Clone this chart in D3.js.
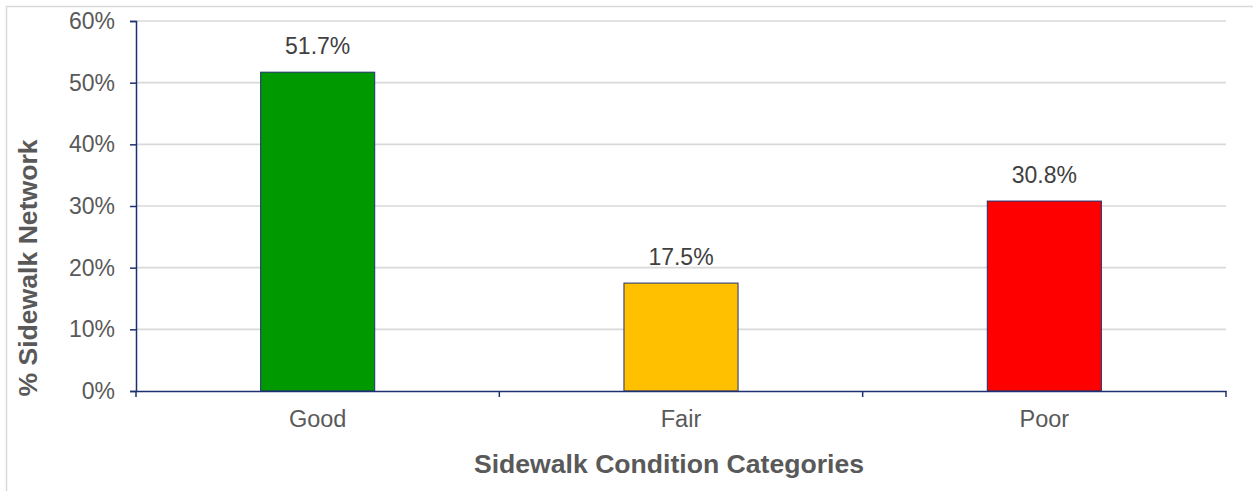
<!DOCTYPE html>
<html>
<head>
<meta charset="utf-8">
<script src="https://cdn.jsdelivr.net/npm/d3@7"></script>
<style>
  html, body { margin: 0; padding: 0; background: #fff; }
  svg { display: block; font-family: "Liberation Sans", Arial, sans-serif; }
</style>
</head>
<body>
<svg id="chart" width="1253" height="491"></svg>
<script>
const categories = ["Good", "Fair", "Poor"];
const values = [51.7, 17.5, 30.8];
const barColors = ["#009900", "#FFC000", "#FF0000"];
const yTicks = [0, 10, 20, 30, 40, 50, 60];
const yTitle = "% Sidewalk Network";
const xTitle = "Sidewalk Condition Categories";

const W = 1253, H = 491;
const m = { left: 136, right: 1226, top: 21, bottom: 391 };
const axisColor = "#1F3070";

const svg = d3.select("#chart");

// outer chart border (cropped at right/bottom)
svg.append("rect")
  .attr("x", 6.5).attr("y", 6.5)
  .attr("width", W + 20).attr("height", H + 20)
  .attr("fill", "#fff").attr("stroke", "#D9D9D9").attr("stroke-width", 1.5);

const x = d3.scaleBand().domain(categories).range([m.left, m.right]).padding(0);
const y = d3.scaleLinear().domain([0, 60]).range([m.bottom, m.top]);

// gridlines
svg.append("g").selectAll("line")
  .data(yTicks.filter(d => d > 0))
  .join("line")
  .attr("x1", m.left).attr("x2", m.right)
  .attr("y1", d => y(d)).attr("y2", d => y(d))
  .attr("stroke", "#D9D9D9").attr("stroke-width", 1.6);

// bars
const barW = x.bandwidth() * 0.314;
svg.append("g").selectAll("rect")
  .data(values)
  .join("rect")
  .attr("x", (d, i) => x(categories[i]) + x.bandwidth() / 2 - barW / 2)
  .attr("y", d => y(d))
  .attr("width", barW)
  .attr("height", d => y(0) - y(d))
  .attr("fill", (d, i) => barColors[i])
  .attr("stroke", axisColor).attr("stroke-width", 1);

// data labels
svg.append("g").selectAll("text")
  .data(values)
  .join("text")
  .attr("x", (d, i) => x(categories[i]) + x.bandwidth() / 2)
  .attr("y", d => y(d) - 18)
  .attr("text-anchor", "middle")
  .attr("font-size", 23)
  .attr("fill", "#404040")
  .text(d => d.toFixed(1) + "%");

// y axis
const yAxis = svg.append("g")
  .attr("transform", `translate(${m.left},0)`)
  .call(d3.axisLeft(y).tickValues(yTicks).tickFormat(d => d + "%").tickSize(6).tickPadding(15));
yAxis.select(".domain").attr("stroke", axisColor).attr("stroke-width", 1.5);
yAxis.selectAll(".tick line").attr("stroke", axisColor).attr("stroke-width", 1.5);
yAxis.selectAll(".tick text")
  .attr("font-size", 23).attr("fill", "#595959")
  .attr("font-family", "'Liberation Sans', Arial, sans-serif");

// x axis
const xAxis = svg.append("g")
  .attr("transform", `translate(0,${m.bottom})`)
  .call(d3.axisBottom(x).tickSize(0).tickPadding(0));
xAxis.select(".domain").attr("stroke", axisColor).attr("stroke-width", 1.5);
xAxis.selectAll(".tick line").remove();
xAxis.selectAll(".tick text")
  .attr("y", 36).attr("dy", 0)
  .attr("font-size", 23.5).attr("fill", "#595959")
  .attr("font-family", "'Liberation Sans', Arial, sans-serif");
// x tick marks at category boundaries
const boundaries = categories.map(c => x(c)).concat([x.range()[1]]);
svg.append("g").selectAll("line")
  .data(boundaries)
  .join("line")
  .attr("x1", d => d).attr("x2", d => d)
  .attr("y1", m.bottom).attr("y2", m.bottom + 6)
  .attr("stroke", axisColor).attr("stroke-width", 1.5);

// axis titles
svg.append("text")
  .attr("transform", `translate(37,268) rotate(-90)`)
  .attr("text-anchor", "middle")
  .attr("font-size", 26.6).attr("font-weight", "bold")
  .attr("fill", "#595959")
  .text(yTitle);

svg.append("text")
  .attr("x", 669).attr("y", 473)
  .attr("text-anchor", "middle")
  .attr("font-size", 26.6).attr("font-weight", "bold")
  .attr("fill", "#595959")
  .text(xTitle);
</script>
</body>
</html>
